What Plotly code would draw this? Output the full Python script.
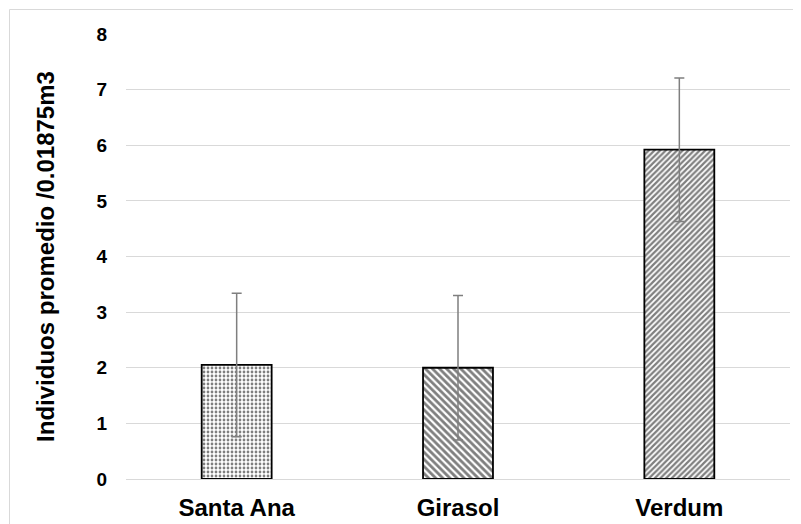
import plotly.graph_objects as go

categories = ["Santa Ana", "Girasol", "Verdum"]
values = [2.05, 2.0, 5.92]
errors = [1.29, 1.3, 1.29]
patterns = [".", "\\", "/"]
pattern_sizes = [4, 5, 4]
pattern_solidity = [0.38, 0.55, 0.55]
y_ticks = [0, 1, 2, 3, 4, 5, 6, 7, 8]

FONT = "Liberation Sans, Arial"

fig = go.Figure()
fig.add_trace(go.Bar(
    x=categories, y=values,
    marker=dict(color="white",
                line=dict(color="black", width=1.8),
                pattern=dict(shape=patterns, fgcolor="black", bgcolor="white",
                             size=pattern_sizes, solidity=pattern_solidity)),
    error_y=dict(type="data", array=errors, visible=True, color="#7f7f7f", thickness=1.5, width=5),
    width=0.316,
))

# page body has an 8px default margin: compensate so the plot area lands at 126..790 x 34..479
fig.update_layout(
    width=801, height=524,
    margin=dict(l=118, r=19, t=26, b=53),
    paper_bgcolor="white", plot_bgcolor="white",
    showlegend=False,
    font=dict(family=FONT, color="black"),
    xaxis=dict(showgrid=False, showline=False, ticks="",
               tickfont=dict(size=24, family=FONT, weight="bold"),
               ticklabelstandoff=12),
    yaxis=dict(range=[0, 8], tickvals=y_ticks, showgrid=True, gridcolor="#d9d9d9", gridwidth=1,
               zeroline=True, zerolinecolor="#d9d9d9", zerolinewidth=1, showline=False, ticks="",
               tickfont=dict(size=19, family=FONT, weight="bold"),
               ticklabelstandoff=18,
               title=dict(text="Individuos promedio /0.01875m3", standoff=35,
                          font=dict(size=24, family=FONT, weight="bold"))),
    shapes=[dict(type="rect", xref="paper", yref="paper",
                 x0=(1.5 - 118) / 664, x1=1.2, y0=-0.3, y1=1 + (26 - 1.5) / 445,
                 line=dict(color="#d9d9d9", width=1), layer="below")],
)

fig.write_html("out.html")
